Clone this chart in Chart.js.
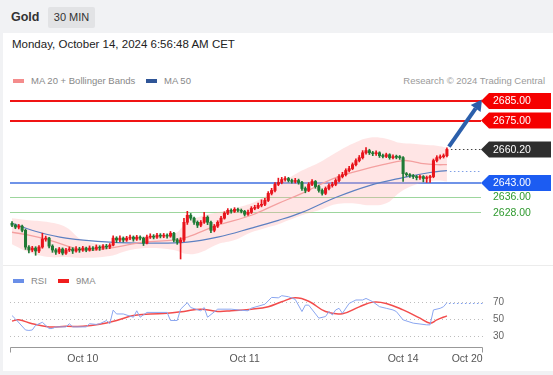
<!DOCTYPE html>
<html><head><meta charset="utf-8">
<script src="https://cdn.jsdelivr.net/npm/chart.js@4.4.1/dist/chart.umd.min.js"></script>
<style>
body{margin:0;width:553px;height:375px;background:#f1f2f4;position:relative;overflow:hidden;font-family:"Liberation Sans",Arial,sans-serif}
.a{position:absolute;white-space:nowrap}
.sw{position:absolute;width:11px;height:4px}
</style></head><body>
<div class="a" style="left:11px;top:10px;font-weight:bold;font-size:12.5px;color:#333">Gold</div>
<div class="a" style="left:48px;top:7px;width:47px;height:21px;line-height:21px;text-align:center;background:#e2e3e5;font-size:11px;color:#333;border-radius:2px">30 MIN</div>
<div class="a" style="left:3px;top:33px;width:550px;height:338px;background:#fff"></div>
<div class="a" style="left:12px;top:38px;font-size:11.5px;color:#222">Monday, October 14, 2024 6:56:48 AM CET</div>
<div class="sw" style="left:13px;top:79px;background:#f48c8c"></div>
<div class="a" style="left:31px;top:75px;font-size:9.5px;color:#888">MA 20 + Bollinger Bands</div>
<div class="sw" style="left:146px;top:79px;background:#2f5597"></div>
<div class="a" style="left:164px;top:75px;font-size:9.5px;color:#888">MA 50</div>
<div class="a" style="right:8px;top:75px;font-size:9.5px;color:#9a9a9a">Research © 2024 Trading Central</div>
<canvas id="pc" class="a" style="left:0;top:60px" width="553" height="205"></canvas>
<div class="a" style="left:3px;top:265px;width:550px;height:1px;background:#ececec"></div>
<div class="sw" style="left:13px;top:279px;background:#6a8fe8"></div>
<div class="a" style="left:31px;top:275px;font-size:9.5px;color:#888">RSI</div>
<div class="sw" style="left:58px;top:279px;background:#f01e1e"></div>
<div class="a" style="left:76px;top:275px;font-size:9.5px;color:#888">9MA</div>
<canvas id="rc" class="a" style="left:0;top:268px" width="553" height="105"></canvas>
<script>
// ---------- DATA ----------
const openP = [2622.4,2621.4,2620.4,2620.9,2618.8,2610.2,2608.7,2609.7,2608.2,2610.2,
2614.3,2614.8,2610.7,2608.7,2607.6,2609.2,2607.1,2608.7,2609.2,2608.2,
2609.2,2608.7,2609.7,2608.7,2609.7,2609.2,2610.2,2609.7,2610.7,2610.2,
2611.2,2614.8,2613.8,2614.8,2613.8,2614.8,2615.3,2614.3,2615.3,2614.8,
2612.2,2615.3,2615.8,2615.3,2616.3,2615.8,2616.3,2615.8,2617.3,2613.8,
2612.7,2613.8,2622.9,2626.5,2625.0,2622.9,2621.4,2622.9,2625.5,2622.9,
2618.8,2620.9,2622.9,2625.0,2627.5,2629.0,2628.5,2629.5,2629.0,2628.5,
2627.0,2628.0,2630.0,2630.5,2631.6,2632.1,2634.1,2637.7,2639.2,2642.3,
2643.3,2644.8,2645.3,2644.3,2643.8,2644.3,2643.3,2640.2,2639.2,2642.3,
2643.8,2641.2,2639.2,2637.7,2640.2,2641.7,2642.3,2644.3,2646.3,2647.3,
2649.4,2650.4,2652.4,2654.5,2656.0,2658.5,2659.6,2658.5,2658.0,2658.5,
2657.0,2656.6,2657.5,2656.0,2656.5,2656.2,2656.0,2647.8,2647.3,2646.8,
2646.3,2645.8,2646.3,2645.3,2645.8,2646.3,2654.5,2656.0,2656.5,2657.0];
const closeP = [2621.4,2620.4,2620.9,2618.8,2610.2,2608.7,2609.7,2608.2,2610.2,2614.3,
2614.8,2610.7,2608.7,2607.6,2609.2,2607.1,2608.7,2609.2,2608.2,2609.2,
2608.7,2609.7,2608.7,2609.7,2609.2,2610.2,2609.7,2610.7,2610.2,2611.2,
2614.8,2613.8,2614.8,2613.8,2614.8,2615.3,2614.3,2615.3,2614.8,2612.2,
2615.3,2615.8,2615.3,2616.3,2615.8,2616.3,2615.8,2617.3,2613.8,2612.7,
2613.8,2622.9,2626.5,2625.0,2622.9,2621.4,2622.9,2625.5,2622.9,2618.8,
2620.9,2622.9,2625.0,2627.5,2629.0,2628.5,2629.5,2629.0,2628.5,2627.0,
2628.0,2630.0,2630.5,2631.6,2632.1,2634.1,2637.7,2639.2,2642.3,2643.3,
2644.8,2645.3,2644.3,2643.8,2644.3,2643.3,2640.2,2639.2,2642.3,2643.8,
2641.2,2639.2,2637.7,2640.2,2641.7,2642.3,2644.3,2646.3,2647.3,2649.4,
2650.4,2652.4,2654.5,2656.0,2658.5,2659.6,2658.5,2658.0,2658.5,2657.0,
2656.6,2657.5,2656.0,2656.5,2656.2,2656.0,2647.8,2647.3,2646.8,2646.3,
2645.8,2646.3,2645.3,2645.8,2646.3,2654.5,2656.0,2656.5,2657.0,2660.2];
const highP = [2623.2,2622.0,2621.8,2621.5,2619.4,2611.0,2610.6,2610.4,2611.0,2617.3,
2615.8,2615.2,2611.4,2609.4,2610.0,2609.8,2609.6,2610.3,2609.9,2610.4,
2610.1,2610.6,2610.2,2610.8,2610.4,2611.3,2610.9,2611.5,2611.6,2612.0,
2616.0,2615.5,2615.9,2615.4,2615.7,2616.4,2615.9,2616.2,2616.0,2615.3,
2616.3,2617.0,2616.6,2617.3,2617.1,2617.2,2617.0,2618.2,2617.8,2614.6,
2615.0,2624.9,2628.5,2627.4,2625.6,2623.6,2623.8,2628.0,2626.2,2623.5,
2621.8,2623.7,2625.9,2628.3,2629.9,2629.8,2630.4,2630.2,2629.7,2629.0,
2629.1,2630.9,2631.6,2632.7,2634.4,2635.2,2638.6,2640.3,2643.2,2645.5,
2645.9,2646.3,2645.9,2645.0,2645.4,2645.0,2643.9,2641.0,2643.2,2644.8,
2644.3,2641.9,2640.0,2641.0,2642.6,2643.4,2645.2,2647.3,2648.5,2650.3,
2651.6,2653.3,2655.4,2657.1,2659.6,2661.1,2660.3,2659.2,2659.5,2659.0,
2657.8,2658.3,2658.0,2657.4,2657.3,2657.1,2656.5,2648.4,2647.9,2647.4,
2646.9,2647.1,2646.8,2646.6,2647.0,2655.3,2657.0,2657.4,2657.9,2661.0];
const lowP = [2620.6,2619.6,2619.5,2618.0,2609.0,2607.2,2607.8,2606.0,2607.4,2609.6,
2613.2,2609.8,2607.5,2606.4,2606.8,2606.2,2606.4,2607.9,2606.9,2607.6,
2607.5,2608.0,2607.8,2608.1,2608.3,2608.6,2608.5,2609.0,2609.3,2609.4,
2610.8,2612.6,2613.0,2612.8,2613.1,2614.0,2613.2,2613.6,2613.9,2611.0,
2611.8,2614.6,2614.4,2614.7,2614.9,2615.0,2614.8,2615.2,2612.9,2611.6,
2604.1,2613.0,2621.8,2624.0,2621.8,2620.2,2620.6,2622.3,2621.7,2617.6,
2618.0,2620.2,2622.2,2624.5,2626.8,2627.6,2627.9,2628.2,2627.7,2626.1,
2626.4,2627.4,2629.3,2629.9,2630.8,2631.4,2633.5,2636.9,2638.4,2641.6,
2642.6,2644.0,2643.5,2642.9,2643.0,2642.4,2639.2,2638.0,2638.6,2641.6,
2640.3,2638.3,2636.8,2637.0,2639.5,2640.9,2641.6,2643.6,2645.6,2646.6,
2648.7,2649.8,2651.7,2653.8,2655.3,2657.8,2657.6,2657.0,2657.2,2656.1,
2655.9,2656.0,2655.2,2655.4,2655.4,2655.1,2643.8,2646.4,2645.9,2645.3,
2644.6,2644.9,2643.6,2643.3,2643.3,2645.7,2653.8,2655.3,2655.8,2656.4];

const ma20Idx = [0,5,11,21,29,39,48,52,61,71,79,86,96,103,110,116,119,122,126,129];
const ma20Val = [2617.8,2616.3,2613.8,2608.7,2609.7,2612.7,2613.8,2615.3,2621.4,2626.5,2632.6,2637.7,2645.8,2649.4,2652.4,2654.5,2654.0,2652.9,2652.4,2652.4];
const ma50Idx = [0,8,16,29,41,52,61,71,79,86,96,106,116,124,129];
const ma50Val = [2622.4,2617.8,2614.8,2612.7,2612.2,2612.7,2615.3,2619.9,2623.9,2628.0,2635.6,2641.7,2645.8,2648.4,2649.4];
const bandIdx = [0,5,11,16,21,29,35,41,48,52,56,61,66,71,75,79,82,86,91,96,101,106,111,115,119,122,126,129];
const bandUp = [2625.0,2623.9,2622.9,2620.4,2613.8,2611.7,2614.8,2615.8,2616.8,2622.9,2626.0,2628.0,2630.0,2632.6,2636.1,2641.2,2645.3,2649.4,2653.4,2658.5,2663.1,2666.2,2665.7,2663.6,2663.1,2662.6,2662.1,2661.1];
const bandLo = [2611.7,2607.6,2605.1,2605.1,2604.6,2605.6,2608.7,2609.7,2608.7,2606.6,2607.6,2611.7,2613.8,2617.8,2619.9,2621.9,2623.9,2626.5,2629.0,2632.1,2632.6,2631.6,2632.6,2638.2,2641.7,2643.3,2644.3,2643.8];

const rsiIdx = [0,1,4,5,6,7,9,11,12,13,16,17,18,22,23,25,26,28,29,30,31,33,36,37,38,40,46,47,49,50,52,53,56,57,58,61,65,68,70,71,75,77,79,80,82,84,86,87,88,91,93,94,95,96,97,98,100,102,104,105,107,109,111,113,114,116,119,121,123,124,125,127,128,129];
const rsiVal = [53.8,50,37,36.5,37,42.5,46,38.7,38.7,40.6,40.6,44.3,40.6,40.6,44.3,43.5,44.3,48,44.3,60.2,55.7,55.7,51.9,59.4,51.9,57.5,57.5,48.1,48.1,61.3,68.9,63.2,59.4,63.2,51.9,61.3,61.3,60,59.4,62.5,67,75,74.5,77,75.8,72.7,58.5,66,66,50.8,52.7,58.5,54.6,60.4,62.3,56.5,68,72,72,73.8,70,64.2,62.3,60.4,58.5,48.8,45,44,43,43,60.4,62.3,64.2,68.8];
const maRsiIdx = [0,2,6,11,16,21,26,31,36,41,46,51,56,61,65,71,76,80,84,88,93,98,103,107,111,116,121,124,126,129];
const maRsiVal = [47.4,48.9,44.3,40.6,41.3,41.3,43.6,48.1,53.8,55.7,56.4,58.7,61.3,58.7,59.4,61.3,64.2,70,74.5,70.5,58.5,56,64,69.5,68,60.4,50.8,45,48.8,53.5];

const levelVals = [2685, 2675, 2660.2, 2643, 2636, 2628];
const levelLabels = ['2685.00','2675.00','2660.20','2643.00','2636.00','2628.00'];
const rsiLevels = [70, 50, 30];
const tickPos = [21, 69, 116, 135];
const tickLabels = ['Oct 10','Oct 11','Oct 14','Oct 20'];

// ---------- STYLE ----------
const X_MIN = -0.6, X_MAX = 139.7;
const UP = '#e8141c', DOWN = '#1f7a35';
const FONT = '"Liberation Sans", Arial, sans-serif';
const idx = openP.map((_, i) => i);
const candleColors = idx.map(i => closeP[i] >= openP[i] ? UP : DOWN);
const pts = (xs, ys) => xs.map((x, k) => ({x, y: ys[k]}));

function tag(ctx, x, y, color, text) {
  const h = 16, w = 70;
  ctx.fillStyle = color;
  ctx.beginPath();
  ctx.moveTo(x, y);
  ctx.lineTo(x + 8, y - h / 2);
  ctx.lineTo(x + w, y - h / 2);
  ctx.lineTo(x + w, y + h / 2);
  ctx.lineTo(x + 8, y + h / 2);
  ctx.closePath();
  ctx.fill();
  ctx.fillStyle = '#fff';
  ctx.font = '10.5px ' + FONT;
  ctx.textBaseline = 'middle';
  ctx.textAlign = 'left';
  ctx.fillText(text, x + 12, y + 0.5);
}

const pricePlugin = {
  id: 'pricePlugin',
  beforeDatasetsDraw(chart) {
    const {ctx, chartArea: a, scales: {y}} = chart;
    const style = [['#f01414', 2], ['#f01414', 2], null, ['#6f93e8', 2], ['#9dd69d', 1], ['#9dd69d', 1]];
    ctx.save();
    levelVals.forEach((v, k) => {
      if (!style[k]) return;
      const py = Math.round(y.getPixelForValue(v)) + (style[k][1] === 1 ? 0.5 : 0);
      ctx.strokeStyle = style[k][0];
      ctx.lineWidth = style[k][1];
      ctx.beginPath(); ctx.moveTo(a.left, py); ctx.lineTo(481, py); ctx.stroke();
    });
    ctx.restore();
  },
  afterDraw(chart) {
    const {ctx, scales: {x, y}} = chart;
    const last = closeP.length - 1;
    ctx.save();
    // dotted extensions
    ctx.setLineDash([1.5, 2.5]);
    ctx.lineWidth = 1;
    ctx.strokeStyle = '#444';
    let py = Math.round(y.getPixelForValue(closeP[last])) + 0.5;
    ctx.beginPath(); ctx.moveTo(x.getPixelForValue(last) + 4, py); ctx.lineTo(481, py); ctx.stroke();
    ctx.strokeStyle = '#7f9fe6';
    py = Math.round(y.getPixelForValue(ma50Val[ma50Val.length - 1])) + 0.5;
    ctx.beginPath(); ctx.moveTo(x.getPixelForValue(last) + 3, py); ctx.lineTo(481, py); ctx.stroke();
    ctx.setLineDash([]);
    // arrow
    const x0 = x.getPixelForValue(last) + 2, y0 = y.getPixelForValue(2661.6);
    const x1 = 482, y1 = y.getPixelForValue(2685.8);
    const ang = Math.atan2(y1 - y0, x1 - x0);
    const hl = 11;
    const bx = x1 - hl * Math.cos(ang), by = y1 - hl * Math.sin(ang);
    ctx.strokeStyle = '#2b5fab'; ctx.fillStyle = '#2b5fab'; ctx.lineWidth = 4; ctx.lineCap = 'butt';
    ctx.beginPath(); ctx.moveTo(x0, y0); ctx.lineTo(bx, by); ctx.stroke();
    ctx.beginPath();
    ctx.moveTo(x1, y1);
    ctx.lineTo(bx + 6 * Math.sin(ang), by - 6 * Math.cos(ang));
    ctx.lineTo(bx - 6 * Math.sin(ang), by + 6 * Math.cos(ang));
    ctx.closePath(); ctx.fill();
    // tags
    const tagColors = ['#f50000', '#f50000', '#2e2e2e', '#1c5cf2', null, null];
    levelVals.forEach((v, k) => {
      const ty = y.getPixelForValue(v);
      if (tagColors[k]) tag(ctx, 481, ty, tagColors[k], levelLabels[k]);
      else {
        ctx.fillStyle = '#2f9a2f'; ctx.font = '10.5px ' + FONT;
        ctx.textBaseline = 'middle'; ctx.textAlign = 'left';
        ctx.fillText(levelLabels[k], 493, ty + 0.5);
      }
    });
    ctx.restore();
  }
};

new Chart(document.getElementById('pc'), {
  type: 'bar',
  data: { datasets: [
    { type: 'bar', data: idx.map(i => ({x: i, y: [openP[i], closeP[i]]})), backgroundColor: candleColors, barThickness: 2.4, grouped: false, minBarLength: 1 },
    { type: 'bar', data: idx.map(i => ({x: i, y: [lowP[i], highP[i]]})), backgroundColor: candleColors, barThickness: 1, grouped: false },
    { type: 'line', data: pts(ma20Idx, ma20Val), borderColor: '#f4a0a0', borderWidth: 1.3, pointRadius: 0, tension: 0.4, fill: false },
    { type: 'line', data: pts(ma50Idx, ma50Val), borderColor: '#5d80c2', borderWidth: 1.2, pointRadius: 0, tension: 0.4, fill: false },
    { type: 'line', data: pts(bandIdx, bandUp), borderWidth: 0, borderColor: 'rgba(0,0,0,0)', pointRadius: 0, tension: 0.4, fill: false },
    { type: 'line', data: pts(bandIdx, bandLo), borderWidth: 0, borderColor: 'rgba(0,0,0,0)', pointRadius: 0, tension: 0.4, fill: '-1', backgroundColor: 'rgba(255,175,175,0.32)' }
  ]},
  options: {
    responsive: false, animation: false, devicePixelRatio: 1,
    layout: { padding: { left: 10, right: 70, top: 28, bottom: 2 } },
    plugins: { legend: { display: false }, tooltip: { enabled: false } },
    scales: {
      x: { type: 'linear', display: false, min: X_MIN, max: X_MAX, offset: false },
      y: { type: 'linear', display: false, min: 2602.05, max: 2691.66, beginAtZero: false }
    }
  },
  plugins: [pricePlugin]
});

const rsiPlugin = {
  id: 'rsiPlugin',
  beforeDatasetsDraw(chart) {
    const {ctx, chartArea: a, scales: {y}} = chart;
    ctx.save();
    ctx.strokeStyle = '#bdbdbd'; ctx.lineWidth = 1; ctx.setLineDash([1, 3]);
    ctx.fillStyle = '#666'; ctx.font = '10px ' + FONT; ctx.textBaseline = 'middle'; ctx.textAlign = 'left';
    rsiLevels.forEach(v => {
      const py = Math.round(y.getPixelForValue(v)) + 0.5;
      ctx.beginPath(); ctx.moveTo(a.left, py); ctx.lineTo(a.right, py); ctx.stroke();
      ctx.fillText(String(v), 493, py);
    });
    ctx.restore();
  },
  afterDraw(chart) {
    const {ctx, chartArea: a, scales: {x, y}} = chart;
    ctx.save();
    const last = rsiVal[rsiVal.length - 1];
    ctx.strokeStyle = '#7f9ff0'; ctx.lineWidth = 1; ctx.setLineDash([1.5, 2.5]);
    const py = Math.round(y.getPixelForValue(last)) + 0.5;
    ctx.beginPath(); ctx.moveTo(x.getPixelForValue(rsiIdx[rsiIdx.length - 1]) + 2, py); ctx.lineTo(a.right, py); ctx.stroke();
    ctx.setLineDash([]);
    ctx.strokeStyle = '#999'; ctx.lineWidth = 1;
    const by = Math.round(a.bottom) + 0.5;
    ctx.beginPath();
    ctx.moveTo(a.left + 0.5, by + 5); ctx.lineTo(a.left + 0.5, by);
    ctx.lineTo(a.right - 0.5, by); ctx.lineTo(a.right - 0.5, by + 5);
    ctx.stroke();
    ctx.fillStyle = '#555'; ctx.font = '10.5px ' + FONT; ctx.textAlign = 'center'; ctx.textBaseline = 'middle';
    tickPos.forEach((t, k) => ctx.fillText(tickLabels[k], x.getPixelForValue(t), by + 12));
    ctx.restore();
  }
};

new Chart(document.getElementById('rc'), {
  type: 'line',
  data: { datasets: [
    { data: pts(rsiIdx, rsiVal), borderColor: '#8aa6f0', borderWidth: 1, pointRadius: 0, tension: 0, fill: false },
    { data: pts(maRsiIdx, maRsiVal), borderColor: '#f24c4c', borderWidth: 1.5, pointRadius: 0, tension: 0.4, fill: false }
  ]},
  options: {
    responsive: false, animation: false, devicePixelRatio: 1,
    layout: { padding: { left: 10, right: 70, top: 20, bottom: 26 } },
    plugins: { legend: { display: false }, tooltip: { enabled: false } },
    scales: {
      x: { type: 'linear', display: false, min: X_MIN, max: X_MAX },
      y: { type: 'linear', display: false, min: 17.17, max: 85.98 }
    }
  },
  plugins: [rsiPlugin]
});
</script>
</body></html>
